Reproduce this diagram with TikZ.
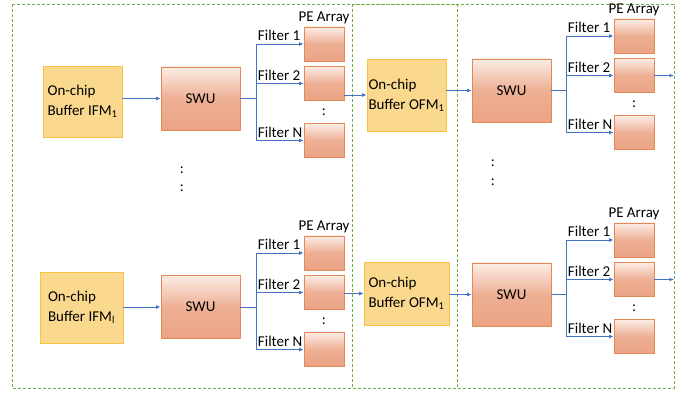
\documentclass[tikz,border=0pt]{standalone}
\usepackage{fontspec}
\setmainfont{Carlito}
\usetikzlibrary{arrows.meta,calc}

\definecolor{bufFill}{HTML}{FAD98F}
\definecolor{bufLine}{HTML}{F6C344}
\definecolor{swuTop}{HTML}{FCEDE6}
\definecolor{swuBot}{HTML}{EBA485}
\definecolor{swuLine}{HTML}{E58858}
\definecolor{wireBlue}{HTML}{4472C4}
\definecolor{frameGreen}{HTML}{70AD47}

\begin{document}
\begin{tikzpicture}[x=1pt,y=-1pt,
    buffer/.style={draw=bufLine,fill=bufFill,line width=0.8pt,align=left,inner sep=0pt,
                   font=\fontsize{15}{20}\selectfont},
    swu/.style={draw=swuLine,line width=0.8pt,top color=swuTop,bottom color=swuBot,
                middle color=swuBot!85!swuTop,minimum width=79pt,minimum height=63pt,
                inner sep=0pt,font=\fontsize{15}{18}\selectfont},
    pe/.style={draw=swuLine,line width=0.8pt,top color=swuTop,bottom color=swuBot,
               middle color=swuBot!85!swuTop,minimum width=40pt,minimum height=34pt,inner sep=0pt},
    wire/.style={draw=wireBlue,line width=0.9pt},
    link/.style={wire,-{Latex[length=4.5pt,width=4pt]}},
    lbl/.style={font=\fontsize{15}{18}\selectfont,inner sep=1pt},
    layer/.style={draw=frameGreen,line width=0.8pt,dash pattern=on 3pt off 2pt}]

  \useasboundingbox (0,0) rectangle (688,395);

  % layer frames
  \draw[layer] (12,4) rectangle (457,388);
  \draw[layer] (352,4) rectangle (674,388);

  % buffers
  \node[buffer,minimum width=79pt,minimum height=71pt] (ifmA) at (82.5,101.5)
       {On-chip\\Buffer IFM\textsubscript{1}};
  \node[buffer,minimum width=83pt,minimum height=71pt] (ifmB) at (81.5,307.5)
       {On-chip\\Buffer IFM\textsubscript{l}};
  \node[buffer,minimum width=79pt,minimum height=72pt] (ofmA) at (406.5,95)
       {On-chip\\Buffer OFM\textsubscript{1}};
  \node[buffer,minimum width=85pt,minimum height=63pt] (ofmB) at (406.5,293.5)
       {On-chip\\Buffer OFM\textsubscript{1}};

  % sliding window units
  \node[swu] (swuA) at (200.5,98.5) {SWU};
  \node[swu] (swuB) at (200.5,307) {SWU};
  \node[swu] (swuC) at (511.5,90.5) {SWU};
  \node[swu] (swuD) at (511.5,294.5) {SWU};

  \draw[link] (ifmA.east |- swuA.west) -- (swuA.west);
  \draw[link] (ifmB.east |- swuB.west) -- (swuB.west);
  \draw[link] (ofmA.east |- swuC.west) -- (swuC.west);
  \draw[link] (ofmB.east |- swuD.west) -- (swuD.west);

  % PE arrays with filter branches
  \foreach \g/\px/\py in {A/324/44, B/324/253, C/634/36, D/634/240} {
    \pgfmathsetmacro{\bx}{\px-68}
    \node[pe] (\g1) at (\px,\py) {};
    \node[pe] (\g2) at (\px,\py+39.5) {};
    \node[pe] (\g3) at (\px,\py+96.5) {};
    \node[lbl,anchor=south,yshift=1.5pt] (arr\g) at (\g1.north) {PE Array};
    \node[lbl] (dots\g) at ($(\g2.south)!0.5!(\g3.north)$) {:};
    \coordinate (br\g) at (\bx,0 |- swu\g.east);
    \draw[wire] (swu\g.east) -- (br\g);
    \draw[wire] (br\g |- \g1.west) -- (br\g |- \g3.west);
    \foreach \k/\t in {1/Filter 1, 2/Filter 2, 3/Filter N} {
      \draw[link] (br\g |- \g\k.west) -- (\g\k.west)
        node[lbl,pos=0,anchor=south west,inner sep=1.5pt,yshift=1pt] {\t};
    }
  }

  % between layers and outputs
  \draw[link] (A2.east |- ofmA.west) -- (ofmA.west);
  \draw[link] (B2.east |- ofmB.west) -- (ofmB.west);
  \coordinate (outEdge) at (674,0);
  \draw[link] (C2.east) -- (C2.east -| outEdge);
  \draw[link] (D2.east) -- (D2.east -| outEdge);

  % skipped rows
  \node[lbl] (skipA) at (182,170) {:};
  \node[lbl] (skipB) at (182,188) {:};
  \node[lbl] (skipC) at (493,163) {:};
  \node[lbl] (skipD) at (493,182) {:};

\end{tikzpicture}
\end{document}
